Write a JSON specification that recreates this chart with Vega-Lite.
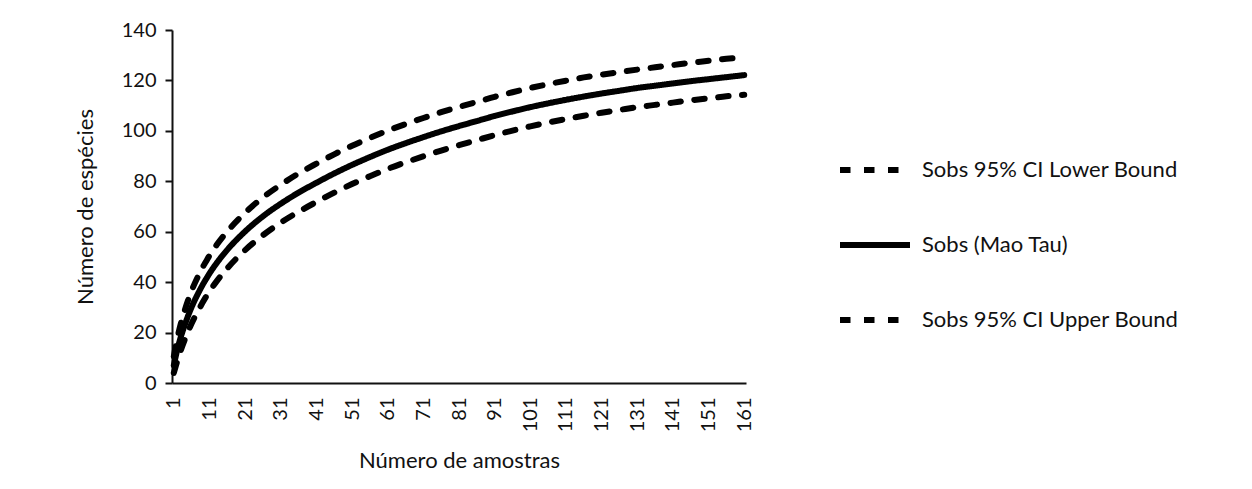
{
  "$schema": "https://vega.github.io/schema/vega-lite/v6.json",
  "width": 574,
  "height": 353,
  "autosize": {"type": "none"},
  "padding": {"left": 172, "top": 30, "right": 506, "bottom": 106},
  "background": "white",
  "config": {"font": "Lato", "view": {"stroke": null}},
  "data": {
    "values": [
      {"amostra": 1, "lower": 4.0, "sobs": 7.0, "upper": 10.5},
      {"amostra": 2, "lower": 8.8, "sobs": 13.3, "upper": 17.8},
      {"amostra": 3, "lower": 13.1, "sobs": 18.4, "upper": 23.7},
      {"amostra": 4, "lower": 16.9, "sobs": 22.7, "upper": 28.5},
      {"amostra": 5, "lower": 20.4, "sobs": 26.6, "upper": 32.8},
      {"amostra": 6, "lower": 23.6, "sobs": 30.1, "upper": 36.6},
      {"amostra": 7, "lower": 26.5, "sobs": 33.2, "upper": 39.9},
      {"amostra": 8, "lower": 29.1, "sobs": 36.0, "upper": 42.9},
      {"amostra": 9, "lower": 31.7, "sobs": 38.7, "upper": 45.7},
      {"amostra": 10, "lower": 34.1, "sobs": 41.1, "upper": 48.1},
      {"amostra": 11, "lower": 36.3, "sobs": 43.4, "upper": 50.5},
      {"amostra": 13, "lower": 40.3, "sobs": 47.5, "upper": 54.7},
      {"amostra": 16, "lower": 45.5, "sobs": 52.8, "upper": 60.1},
      {"amostra": 21, "lower": 52.7, "sobs": 60.1, "upper": 67.5},
      {"amostra": 26, "lower": 58.6, "sobs": 66.1, "upper": 73.6},
      {"amostra": 31, "lower": 63.6, "sobs": 71.1, "upper": 78.6},
      {"amostra": 36, "lower": 67.9, "sobs": 75.5, "upper": 83.1},
      {"amostra": 41, "lower": 71.8, "sobs": 79.4, "upper": 87.0},
      {"amostra": 46, "lower": 75.5, "sobs": 83.1, "upper": 90.7},
      {"amostra": 51, "lower": 78.9, "sobs": 86.5, "upper": 94.1},
      {"amostra": 56, "lower": 82.0, "sobs": 89.6, "upper": 97.2},
      {"amostra": 61, "lower": 84.9, "sobs": 92.5, "upper": 100.1},
      {"amostra": 66, "lower": 87.5, "sobs": 95.1, "upper": 102.7},
      {"amostra": 71, "lower": 89.9, "sobs": 97.5, "upper": 105.1},
      {"amostra": 76, "lower": 92.2, "sobs": 99.8, "upper": 107.4},
      {"amostra": 81, "lower": 94.3, "sobs": 101.9, "upper": 109.5},
      {"amostra": 86, "lower": 96.3, "sobs": 103.9, "upper": 111.5},
      {"amostra": 91, "lower": 98.3, "sobs": 105.9, "upper": 113.5},
      {"amostra": 96, "lower": 100.1, "sobs": 107.7, "upper": 115.3},
      {"amostra": 101, "lower": 101.8, "sobs": 109.4, "upper": 117.0},
      {"amostra": 106, "lower": 103.3, "sobs": 110.9, "upper": 118.5},
      {"amostra": 111, "lower": 104.7, "sobs": 112.3, "upper": 119.9},
      {"amostra": 116, "lower": 106.0, "sobs": 113.6, "upper": 121.2},
      {"amostra": 121, "lower": 107.2, "sobs": 114.8, "upper": 122.3},
      {"amostra": 126, "lower": 108.3, "sobs": 115.9, "upper": 123.3},
      {"amostra": 131, "lower": 109.4, "sobs": 117.0, "upper": 124.3},
      {"amostra": 136, "lower": 110.3, "sobs": 117.9, "upper": 125.2},
      {"amostra": 141, "lower": 111.2, "sobs": 118.8, "upper": 126.1},
      {"amostra": 146, "lower": 112.1, "sobs": 119.7, "upper": 127.0},
      {"amostra": 151, "lower": 112.9, "sobs": 120.5, "upper": 127.8},
      {"amostra": 156, "lower": 113.7, "sobs": 121.3, "upper": 128.6},
      {"amostra": 161, "lower": 114.3, "sobs": 122.1, "upper": 129.2}
    ]
  },
  "transform": [{"fold": ["lower", "sobs", "upper"], "as": ["serie", "valor"]}],
  "mark": {"type": "line", "interpolate": "monotone", "strokeWidth": 6, "strokeCap": "round", "strokeJoin": "round", "color": "black"},
  "encoding": {
    "x": {
      "field": "amostra", "type": "quantitative",
      "scale": {"domain": [0.5, 161.5], "nice": false, "zero": false},
      "axis": {
        "title": "Número de amostras",
        "values": [1, 11, 21, 31, 41, 51, 61, 71, 81, 91, 101, 111, 121, 131, 141, 151, 161],
        "labelAngle": 270, "labelFontSize": 20, "labelColor": "#111", "labelPadding": 14,
        "ticks": false, "grid": false, "domainColor": "#111", "domainWidth": 2,
        "titleFontSize": 22, "titleFontWeight": "normal", "titleColor": "#111", "titlePadding": 19
      }
    },
    "y": {
      "field": "valor", "type": "quantitative",
      "scale": {"domain": [0, 140], "nice": false},
      "axis": {
        "title": "Número de espécies",
        "values": [0, 20, 40, 60, 80, 100, 120, 140],
        "labelFontSize": 20, "labelColor": "#111", "labelPadding": 9,
        "tickSize": 7, "tickColor": "#111", "tickWidth": 2, "grid": false,
        "domainColor": "#111", "domainWidth": 2,
        "titleFontSize": 22, "titleFontWeight": "normal", "titleColor": "#111", "titlePadding": 24
      }
    },
    "strokeDash": {
      "field": "serie", "type": "nominal",
      "scale": {"domain": ["lower", "sobs", "upper"], "range": [[10.5, 13.5], [1, 0], [10.5, 13.5]]},
      "legend": {
        "title": null, "orient": "none", "legendX": 665, "legendY": 102,
        "symbolType": "stroke", "symbolSize": 4900, "symbolStrokeWidth": 6, "symbolStrokeColor": "black",
        "labelFontSize": 22, "labelColor": "#111", "labelOffset": 9, "rowPadding": 25, "labelLimit": 400,
        "labelExpr": "datum.label == 'lower' ? 'Sobs 95% CI Lower Bound' : datum.label == 'sobs' ? 'Sobs (Mao Tau)' : 'Sobs 95% CI Upper Bound'"
      }
    }
  }
}
